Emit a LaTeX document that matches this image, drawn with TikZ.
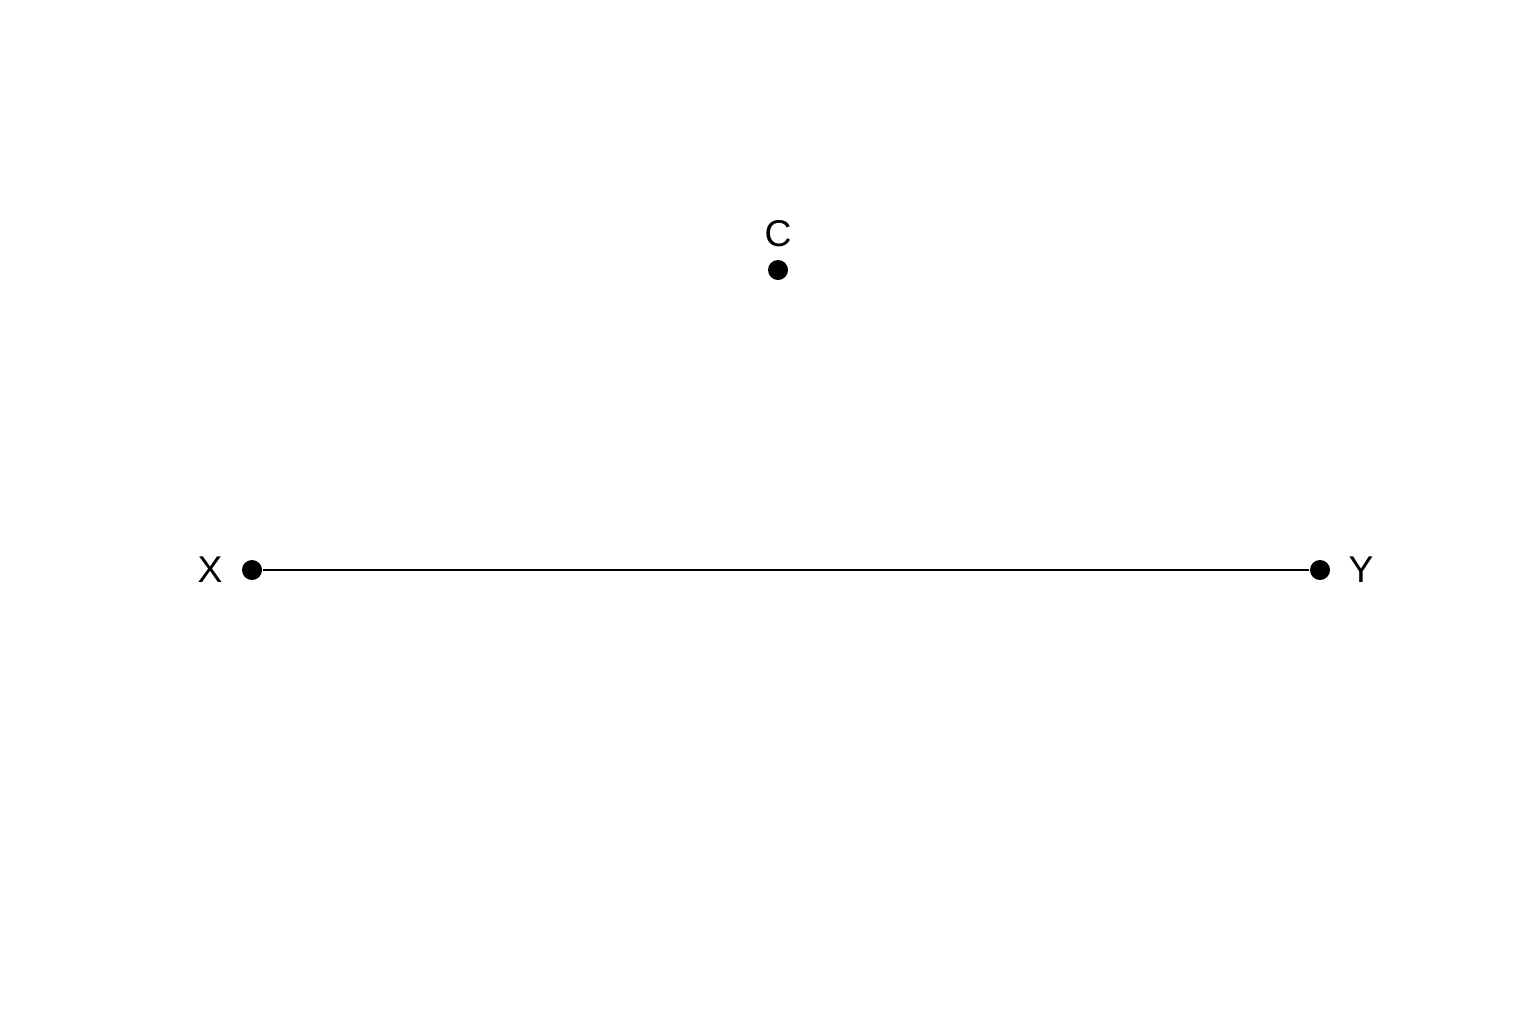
\documentclass[tikz,border=0pt]{standalone}
\usepackage{fontspec}
\setmainfont{Liberation Sans}
\begin{document}
\begin{tikzpicture}[x=0.01cm,y=-0.01cm,
  dot/.style={circle,fill=black,inner sep=0pt,minimum size=0.2cm},
  lbl/.style={font=\fontsize{10.6}{13}\selectfont,inner sep=0pt}]
\useasboundingbox (0,0) rectangle (1536,1024);
\node[dot] (c) at (778,270) {};
\node[dot] (x) at (252,570) {};
\node[dot] (y) at (1320,570) {};
\node[lbl] (cl) at (778,234) {C};
\node[lbl] (xl) at (210,570) {X};
\node[lbl] (yl) at (1361,570) {Y};
\draw[line width=0.6pt] (x) -- (y);
\end{tikzpicture}
\end{document}
